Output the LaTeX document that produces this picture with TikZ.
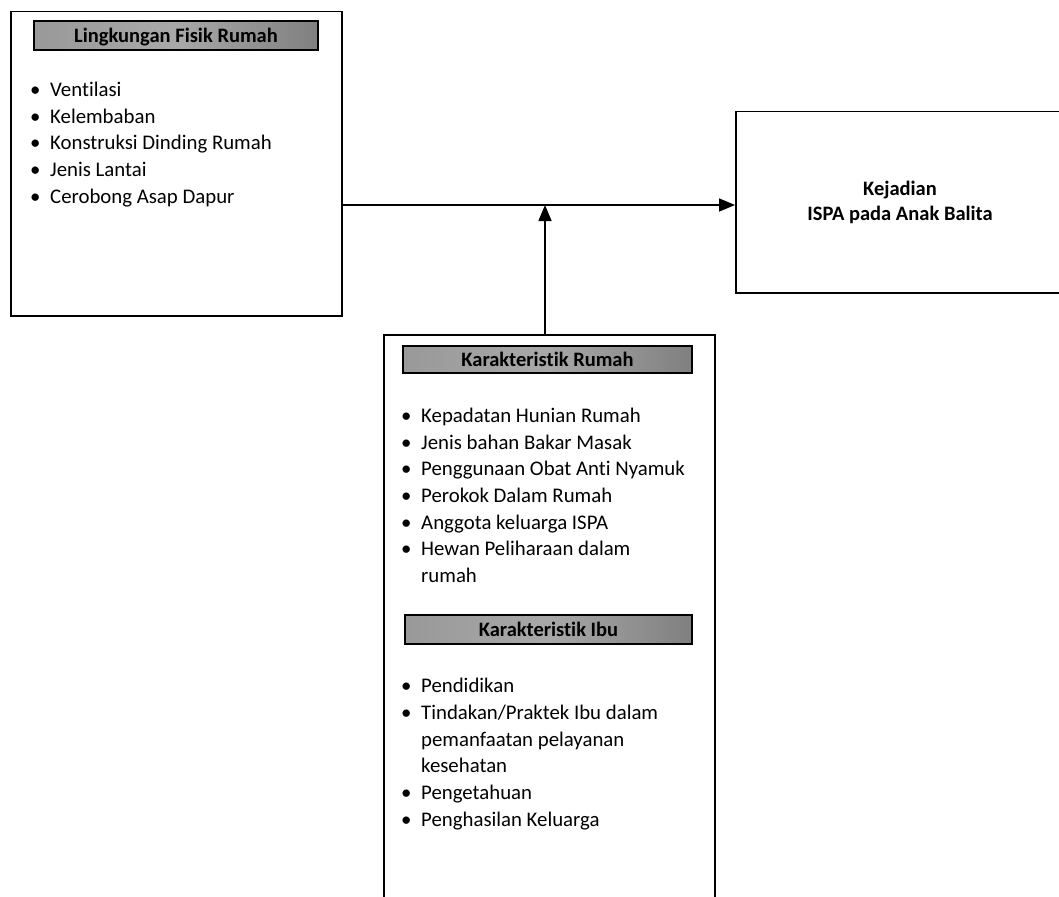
\documentclass[tikz,border=0pt]{standalone}
\usepackage{fontspec}
\setmainfont{Carlito}[RawFeature={-liga;-clig;-calt;-dlig}]
\usetikzlibrary{arrows.meta}
\tikzset{
  frame/.style={draw=black, line width=1.5pt, inner sep=0pt, anchor=north west},
  titlebar/.style={draw=black, line width=1.6pt, left color=black!40, right color=black!50, middle color=black!34,
    inner sep=0pt, text height=14pt, text depth=0pt, font=\fontsize{20.5}{24}\selectfont\bfseries},
  item/.style={anchor=base west, inner sep=0pt, font=\fontsize{20.8}{26}\selectfont},
  bul/.style={anchor=base west, inner sep=0pt, font=\fontsize{20.8}{26}\selectfont},
  result/.style={anchor=base, inner sep=0pt, font=\fontsize{20.5}{25}\selectfont\bfseries},
  arr/.style={line width=1.6pt, -{Triangle[length=16pt,width=13pt]}}
}
\begin{document}
\begin{tikzpicture}[x=1pt,y=-1pt]
\useasboundingbox[fill=white] (0,0) rectangle (1059,896);
\clip (0,0) rectangle (1059,896);
% left box
\node[frame, minimum width=331pt, minimum height=304pt] (lbox) at (10,11) {};
\node[titlebar, minimum width=284pt, minimum height=29pt] (t1) at (176,35.5) {Lingkungan Fisik Rumah};
\foreach \n/\y/\t in {1/97/Ventilasi, 2/123.5/Kelembaban, 3/150/Konstruksi Dinding Rumah, 4/176.5/Jenis Lantai, 5/203/Cerobong Asap Dapur}{
  \node[bul] (lb\n) at (30,\y) {•};
  \node[item] (li\n) at (50,\y) {\t};
}
% right box
\node[frame, minimum width=340pt, minimum height=181pt] (rbox) at (735,111) {};
\node[result] (r1) at (900,195) {Kejadian};
\node[result] (r2) at (900,220) {ISPA pada Anak Balita};
% middle box
\node[frame, minimum width=331pt, minimum height=580pt] (mbox) at (383,334) {};
\node[titlebar, minimum width=289pt, minimum height=27pt] (t2) at (547.5,359.5) {Karakteristik Rumah};
\foreach \n/\y/\t in {1/422/Kepadatan Hunian Rumah, 2/449/Jenis bahan Bakar Masak, 3/475.5/Penggunaan Obat Anti Nyamuk, 4/502/Perokok Dalam Rumah, 5/529/Anggota keluarga ISPA, 6/555.5/Hewan Peliharaan dalam}{
  \node[bul] (mb\n) at (401,\y) {•};
  \node[item] (mi\n) at (421,\y) {\t};
}
\node[item] (mi7) at (421,582) {rumah};
\node[titlebar, minimum width=287pt, minimum height=29pt] (t3) at (548.5,629.5) {Karakteristik Ibu};
\foreach \n/\y/\t in {1/692/{Pendidikan}, 2/719/{Tindakan/Praktek Ibu dalam}, 5/799/{Pengetahuan}, 6/826/{Penghasilan Keluarga}}{
  \node[bul] (ib\n) at (401,\y) {•};
  \node[item] (ii\n) at (421,\y) {\t};
}
\node[item] (ii3) at (421,746) {pemanfaatan pelayanan};
\node[item] (ii4) at (421,772.5) {kesehatan};
% connectors
\coordinate (j) at (545,205);
\draw[arr] (lbox.east |- j) -- (rbox.west |- j);
\draw[arr] (mbox.north -| j) -- (j);
\end{tikzpicture}
\end{document}
